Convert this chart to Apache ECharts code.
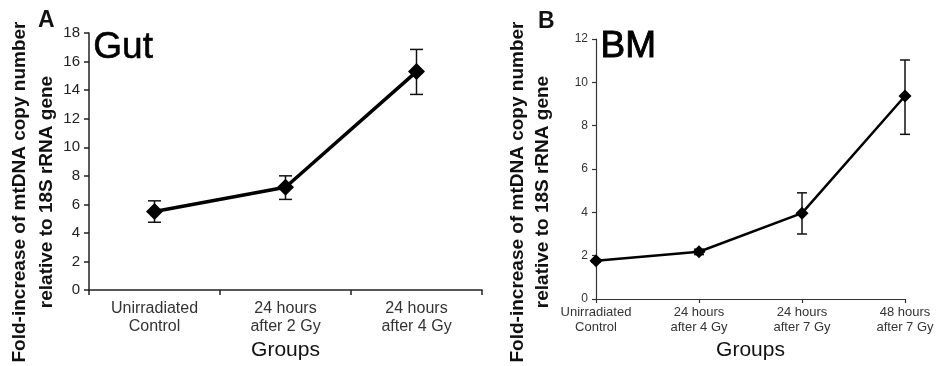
<!DOCTYPE html>
<html>
<head>
<meta charset="utf-8">
<script src="https://cdn.jsdelivr.net/npm/echarts@6/dist/echarts.min.js"></script>
<style>
  html, body { margin: 0; padding: 0; background: #fff; }
  #chart { width: 942px; height: 366px; }
</style>
</head>
<body>
<div id="chart"></div>
<script>
// panel A - Gut
const gutGroups = ['Unirradiated\nControl', '24 hours\nafter 2 Gy', '24 hours\nafter 4 Gy'];
const gutMean = [5.5, 7.2, 15.3];
const gutLow = [4.75, 6.35, 13.7];
const gutHigh = [6.25, 8.0, 16.85];
const gutTicks = [0, 18, 2];

// panel B - BM
const bmGroups = ['Unirradiated\nControl', '24 hours\nafter 4 Gy', '24 hours\nafter 7 Gy', '48 hours\nafter 7 Gy'];
const bmMean = [1.76, 2.18, 3.96, 9.37];
const bmLow = [1.7, 2.05, 3.0, 7.6];
const bmHigh = [1.82, 2.3, 4.9, 11.03];
const bmTicks = [0, 12, 2];

const font = '"Liberation Sans", Arial, sans-serif';
const yTitle = 'Fold-increase of mtDNA copy number\nrelative to 18S rRNA gene';

function errorBars(xIdx, yIdx, low, high, capHalf) {
  return {
    type: 'custom',
    xAxisIndex: xIdx,
    yAxisIndex: yIdx,
    z: 1,
    data: low.map((v, i) => [i, v, high[i]]),
    renderItem: (params, api) => {
      let bottom = api.coord([api.value(0), api.value(1)]);
      let top = api.coord([api.value(0), api.value(2)]);
      let style = { stroke: '#111', lineWidth: 1.5 };
      return {
        type: 'group',
        children: [
          { type: 'line', shape: { x1: top[0], y1: top[1], x2: bottom[0], y2: bottom[1] }, style: style },
          { type: 'line', shape: { x1: top[0] - capHalf, y1: top[1], x2: top[0] + capHalf, y2: top[1] }, style: style },
          { type: 'line', shape: { x1: bottom[0] - capHalf, y1: bottom[1], x2: bottom[0] + capHalf, y2: bottom[1] }, style: style }
        ]
      };
    }
  };
}

let chart = echarts.init(document.getElementById('chart'), null, { renderer: 'canvas' });

let option = {
  backgroundColor: '#fff',
  animation: false,
  grid: [
    { left: 89, top: 33, width: 393, height: 267 },
    { left: 596, top: 39, width: 309, height: 261 }
  ],
  xAxis: [
    {
      type: 'category', gridIndex: 0, data: gutGroups, boundaryGap: true,
      name: 'Groups', nameLocation: 'middle', nameGap: 44,
      nameTextStyle: { fontFamily: font, fontSize: 21, color: '#111' },
      axisLine: { lineStyle: { color: '#222', width: 1.5 } },
      axisTick: { show: true, inside: false, length: 5, alignWithLabel: false, lineStyle: { color: '#222', width: 1.5 } },
      axisLabel: { fontFamily: font, fontSize: 16, color: '#333', lineHeight: 18, margin: 9, interval: 0 }
    },
    {
      type: 'category', gridIndex: 1, data: bmGroups, boundaryGap: false,
      name: 'Groups', nameLocation: 'middle', nameGap: 41,
      nameTextStyle: { fontFamily: font, fontSize: 21, color: '#111' },
      axisLine: { lineStyle: { color: '#333', width: 1.2 } },
      axisTick: { show: true, inside: false, length: 4, lineStyle: { color: '#333', width: 1.2 } },
      axisLabel: { fontFamily: font, fontSize: 13, color: '#333', lineHeight: 15, margin: 6, interval: 0 }
    }
  ],
  yAxis: [
    {
      type: 'value', gridIndex: 0, min: gutTicks[0], max: gutTicks[1], interval: gutTicks[2],
      splitLine: { show: false },
      axisLine: { show: true, lineStyle: { color: '#222', width: 1.5 } },
      axisTick: { show: true, inside: false, length: 5, lineStyle: { color: '#222', width: 1.5 } },
      axisLabel: { fontFamily: font, fontSize: 15, color: '#222', margin: 9 }
    },
    {
      type: 'value', gridIndex: 1, min: bmTicks[0], max: bmTicks[1], interval: bmTicks[2],
      splitLine: { show: false },
      axisLine: { show: true, lineStyle: { color: '#333', width: 1.2 } },
      axisTick: { show: true, inside: false, length: 4, lineStyle: { color: '#333', width: 1.2 } },
      axisLabel: { fontFamily: font, fontSize: 12, color: '#333', margin: 8 }
    }
  ],
  graphic: [
    { type: 'text', left: 38, top: 9, style: { text: 'A', font: 'bold 23px ' + font, fill: '#111' } },
    { type: 'text', left: 538, top: 10, style: { text: 'B', font: 'bold 23px ' + font, fill: '#111' } },
    { type: 'text', left: 93, top: 29, style: { text: 'Gut', font: '37px ' + font, fill: '#000', stroke: '#000', lineWidth: 0.6 } },
    { type: 'text', left: 600, top: 28, style: { text: 'BM', font: '37px ' + font, fill: '#000', stroke: '#000', lineWidth: 0.9 } },
    {
      type: 'text', x: 33, y: 192, rotation: Math.PI / 2,
      style: { text: yTitle, font: 'bold 19px ' + font, fill: '#111', align: 'center', verticalAlign: 'middle', lineHeight: 27 }
    },
    {
      type: 'text', x: 530, y: 192, rotation: Math.PI / 2,
      style: { text: yTitle, font: 'bold 19px ' + font, fill: '#111', align: 'center', verticalAlign: 'middle', lineHeight: 25 }
    }
  ],
  series: [
    {
      type: 'line', xAxisIndex: 0, yAxisIndex: 0, data: gutMean, z: 3,
      symbol: 'diamond', symbolSize: 17,
      lineStyle: { color: '#000', width: 3.5 },
      itemStyle: { color: '#000' }
    },
    errorBars(0, 0, gutLow, gutHigh, 6.5),
    {
      type: 'line', xAxisIndex: 1, yAxisIndex: 1, data: bmMean, z: 3,
      symbol: 'diamond', symbolSize: 13,
      lineStyle: { color: '#000', width: 2.5 },
      itemStyle: { color: '#000' }
    },
    errorBars(1, 1, bmLow, bmHigh, 5)
  ]
};

chart.setOption(option);
</script>
</body>
</html>
